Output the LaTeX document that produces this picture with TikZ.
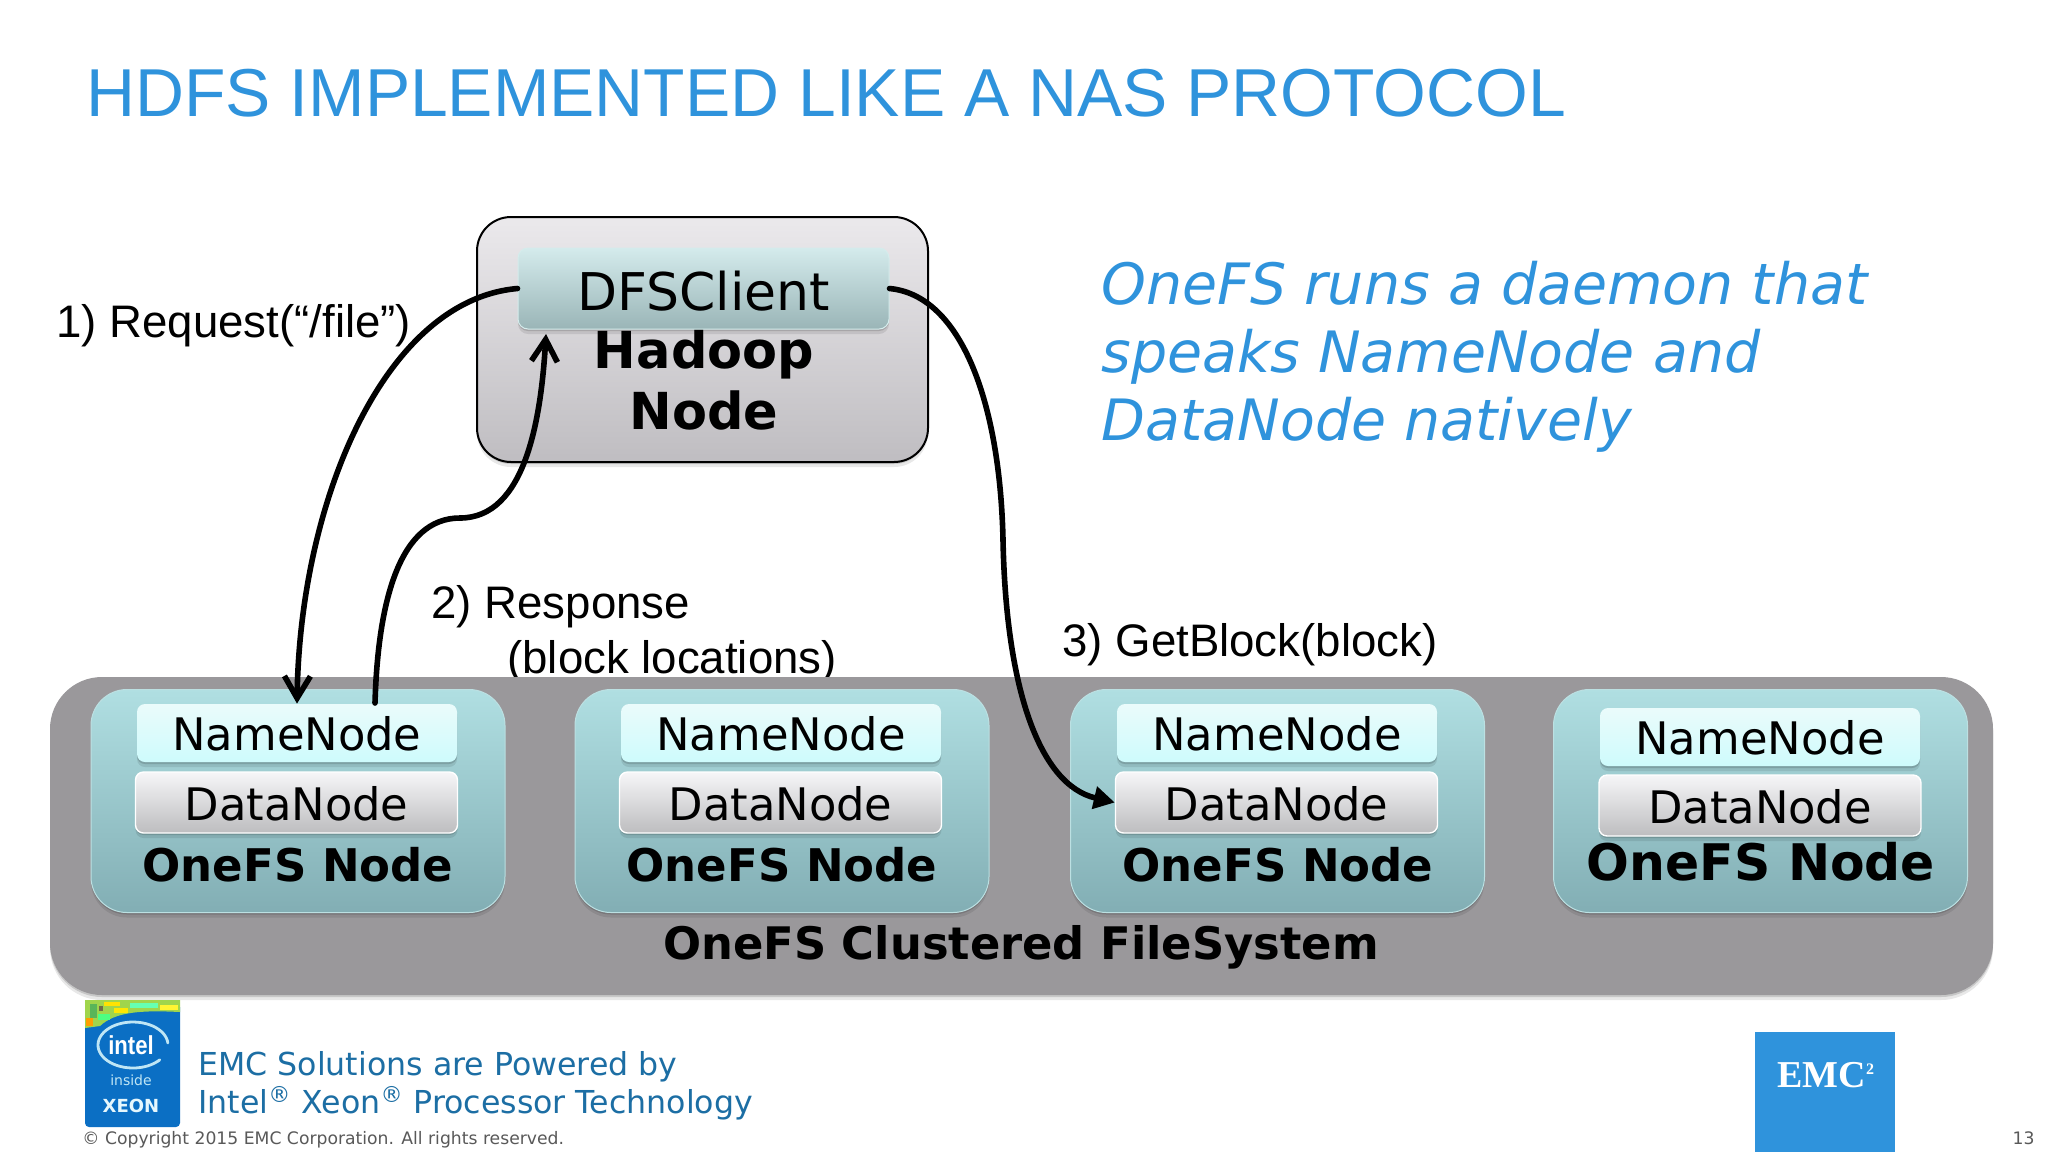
\documentclass[tikz,border=0pt]{standalone}
\usepackage{fontspec}
\setmainfont{DejaVu Sans}
\newfontfamily\arialf{Liberation Sans}
\newfontfamily\timesf{Liberation Serif}
\usetikzlibrary{arrows.meta,shadows,calc}
\definecolor{titleblue}{HTML}{2F93DC}
\definecolor{footblue}{HTML}{1C6EA4}
\definecolor{clustergrey}{HTML}{9A989B}
\definecolor{HadTop}{HTML}{EBE9EC}
\definecolor{HadBot}{HTML}{BFBDC1}
\definecolor{DfsTop}{HTML}{D4EBEC}
\definecolor{DfsBot}{HTML}{9AB5B7}
\definecolor{DfsLine}{HTML}{D5ECEC}
\definecolor{NodeTop}{HTML}{B0DFE2}
\definecolor{NodeBot}{HTML}{82AEB4}
\definecolor{NodeLine}{HTML}{BCE0E2}
\definecolor{NameTop}{HTML}{EAFBFB}
\definecolor{NameBot}{HTML}{CEFBFC}
\definecolor{DataTop}{HTML}{F6F6F8}
\definecolor{DataBot}{HTML}{BDBDBF}
\definecolor{intelblue}{HTML}{0B6FC4}
\definecolor{swoosh}{HTML}{BFE6F5}
\tikzset{
 x=0.5pt,y=-0.5pt,
 softshadow/.style={drop shadow={shadow xshift=0pt,shadow yshift=-1pt,opacity=.14,fill=black},drop shadow={shadow xshift=0pt,shadow yshift=-2.5pt,opacity=.09,fill=black}},
 hadoopbox/.style={draw=black,line width=1pt,rounded corners=17pt,top color=HadTop,bottom color=HadBot,minimum width=225.5pt,minimum height=122.5pt,inner sep=0pt,softshadow},
 dfsbox/.style={draw=DfsLine,line width=.5pt,rounded corners=5pt,top color=DfsTop,bottom color=DfsBot,minimum width=185.5pt,minimum height=40.5pt,inner sep=0pt,font=\fontsize{26}{30}\selectfont,text height=21.5pt,text depth=0pt,softshadow},
 clusterbox/.style={fill=clustergrey,rounded corners=26pt,minimum width=971.5pt,minimum height=159pt,inner sep=0pt,softshadow},
 onefsbox/.style={draw=NodeLine,line width=.5pt,rounded corners=18pt,top color=NodeTop,bottom color=NodeBot,minimum width=207pt,minimum height=111.5pt,inner sep=0pt,softshadow},
 namebox/.style={rounded corners=4pt,top color=NameTop,bottom color=NameBot,minimum width=160pt,minimum height=29pt,inner sep=0pt,font=\fontsize{22.4}{28}\selectfont,text height=17pt,text depth=0pt,softshadow},
 databox/.style={draw=white,line width=.7pt,rounded corners=4pt,top color=DataTop,bottom color=DataBot,minimum width=161pt,minimum height=30.5pt,inner sep=0pt,font=\fontsize{22.4}{28}\selectfont,text height=17.5pt,text depth=0pt,softshadow},
 boldlbl/.style={anchor=base,inner sep=0pt,font=\fontsize{22.5}{28}\selectfont\bfseries},
 steplbl/.style={anchor=base west,inner sep=0pt,font=\arialf\fontsize{22.8}{28}\selectfont},
 link/.style={line width=2.8pt,draw=black,line cap=round},
 barb/.style={-{Straight Barb[length=11pt,width=13pt,line width=2.8pt]}},
 solidhead/.style={-{Triangle[length=10.5pt,width=11pt]}},
 footer/.style={anchor=base west,inner sep=0pt,text=footblue,font=\fontsize{15.8}{19}\selectfont},
 smallgrey/.style={inner sep=0pt,text=black!65,font=\fontsize{8.6}{11}\selectfont},
}
\begin{document}
\begin{tikzpicture}
\useasboundingbox (0,0) rectangle (2048,1152);
\fill[white] (0,0) rectangle (2048,1152);
% title
\node[anchor=base west,inner sep=0pt,text=titleblue,font=\arialf\fontsize{33.9}{42}\selectfont] (title) at (86,116) {HDFS IMPLEMENTED LIKE A NAS PROTOCOL};
% Hadoop node
\node[hadoopbox] (hadoop) at (702.5,339.5) {};
\node[anchor=base,align=center,inner sep=0pt,font=\fontsize{25.5}{30.5}\selectfont\bfseries] (hadooplbl) at (704,429) {Hadoop\\Node};
\node[dfsbox] (dfs) at (703.5,288.5) {DFSClient};
% italic note
\node[anchor=north west,align=left,inner sep=0pt,text=titleblue,font=\fontsize{28.5}{34}\selectfont\itshape] (note) at (1101,261) {OneFS runs a daemon that\\speaks NameNode and\\DataNode natively};
% step labels
\node[steplbl] (s1) at (56,337) {1) Request(“/file”)};
\node[steplbl] (s2a) at (431,618) {2) Response};
\node[steplbl] (s2b) at (507,673) {(block locations)};
\node[steplbl] (s3) at (1062,656) {3) GetBlock(block)};
% cluster
\node[clusterbox] (cluster) at (1021.5,836) {};
\node[onefsbox] (n1) at (298,801) {};
\node[onefsbox] (n2) at (782,801) {};
\node[onefsbox] (n3) at (1277.5,801) {};
\node[onefsbox] (n4) at (1760.5,801) {};
\node[namebox] (nn1) at (297,733) {NameNode};
\node[namebox] (nn2) at (781,733) {NameNode};
\node[namebox] (nn3) at (1277,733) {NameNode};
\node[namebox] (nn4) at (1760,737) {NameNode};
\node[databox] (dn1) at (296.5,802.5) {DataNode};
\node[databox] (dn2) at (780.5,802.5) {DataNode};
\node[databox] (dn3) at (1276.5,802.5) {DataNode};
\node[databox] (dn4) at (1760,805.5) {DataNode};
\node[boldlbl] (l1) at (298,881) {OneFS Node};
\node[boldlbl] (l2) at (782,881) {OneFS Node};
\node[boldlbl] (l3) at (1278,881) {OneFS Node};
\node[boldlbl,font=\fontsize{25.2}{30}\selectfont\bfseries] (l4) at (1761,880) {OneFS Node};
\node[boldlbl,font=\fontsize{22.4}{28}\selectfont\bfseries] (cl) at (1021,959) {OneFS Clustered FileSystem};
% connectors
\coordinate (a2start) at (375,703);
\coordinate (a2tip) at (546,334);
\draw[link,barb] (dfs.west) .. controls (385,300) and (300,500) .. (nn1.north);
\draw[link,barb] (a2start) .. controls (378,600) and (400,518) .. (460,518) .. controls (525,518) and (541,420) .. (a2tip);
\draw[link,solidhead] (dfs.east) .. controls (960,295) and (1000,400) .. (1003,540) .. controls (1006,690) and (1040,785) .. (dn3.west);
% intel logo
\fill[rounded corners=2pt,fill=intelblue] (85,1003) rectangle (180,1127);
\fill[fill=black!5!yellow!55!green!80] (85,1000) -- (180,1000) -- (180,1012) .. controls (140,1010) and (115,1012) .. (100,1026) -- (85,1028) -- cycle;
\fill[green!55!black!65] (90,1004) rectangle (97,1018);
\fill[black!65!yellow] (99,1006) rectangle (103,1011);
\fill[orange!75!yellow] (86,1018) rectangle (93,1026);
\fill[yellow!85!orange] (104,1002) rectangle (120,1006);
\fill[green!70!cyan!70] (98,1014) rectangle (110,1020);
\fill[yellow!90!orange] (114,1008) rectangle (128,1013);
\fill[green!50!cyan!60] (130,1003) rectangle (158,1008);
\fill[yellow!80!white] (160,1005) rectangle (178,1010);
\draw[swoosh,line width=1.4pt,line cap=round] plot[smooth,domain=5:320,samples=50] ({133+35*cos(\x)},{1045-23*sin(\x)});
\node[text=white,inner sep=0pt,font=\arialf\fontsize{13}{16}\selectfont\bfseries] (intel) at (131,1045) {\scalebox{.85}[1]{intel}};
\node[text=swoosh,inner sep=0pt,font=\fontsize{7}{8}\selectfont] (inside) at (131,1080) {inside};
\node[text=white!90!cyan,inner sep=0pt,font=\fontsize{9}{10}\selectfont\bfseries] (xeon) at (131,1106) {XEON};
% footer
\node[footer] (f1) at (198,1075) {EMC Solutions are Powered by};
\node[footer] (f2) at (198,1113) {Intel\textsuperscript{®} Xeon\textsuperscript{®} Processor Technology};
\node[smallgrey,anchor=base west] (copy) at (82,1144) {© Copyright 2015 EMC Corporation. All rights reserved.};
\node[smallgrey,anchor=base east] (page) at (2035,1144) {13};
% EMC logo
\fill[titleblue] (1755,1032) rectangle (1895,1152);
\node[anchor=base west,inner sep=0pt,text=white,font=\timesf\fontsize{19}{22}\selectfont\bfseries] (emc) at (1777,1087) {EMC\textsuperscript{\fontsize{8}{8}\selectfont 2}};
\end{tikzpicture}
\end{document}
